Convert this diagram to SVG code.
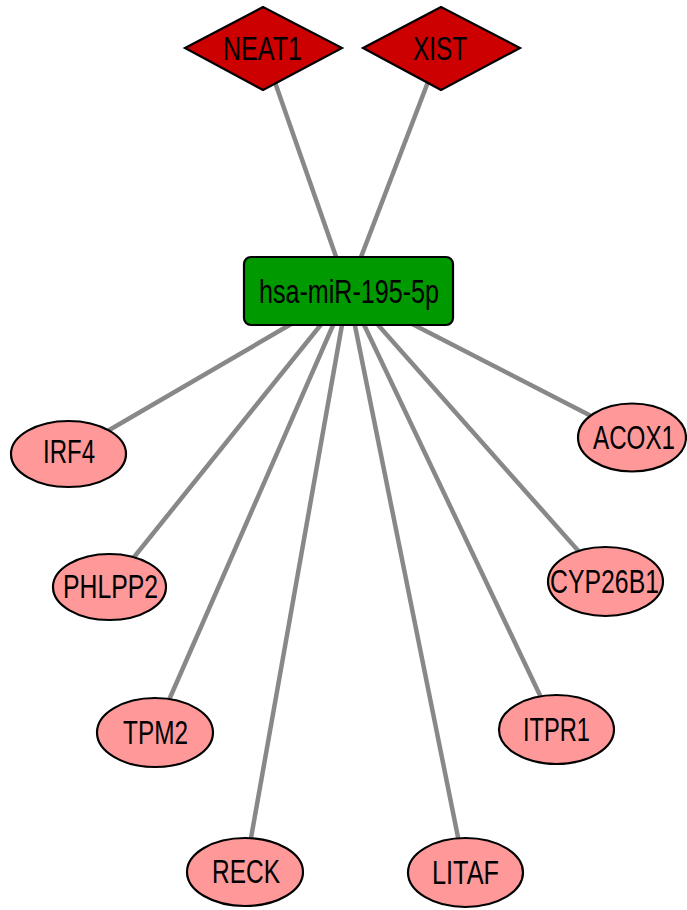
<svg xmlns="http://www.w3.org/2000/svg" width="687" height="910" viewBox="0 0 687 910">
<style>
.edge{stroke:#888888;stroke-width:4.5;fill:none}
.dia{fill:#CC0000;stroke:#000;stroke-width:2.2}
.mir{fill:#009900;stroke:#000;stroke-width:2.2}
.gene{fill:#FF9999;stroke:#000;stroke-width:2.2}
text{font-family:"Liberation Sans Narrow","Liberation Sans",Arial,sans-serif;font-size:33px;fill:#000;text-anchor:middle}
</style>
<rect width="687" height="910" fill="#fff"/>
<g id="edges">
<line class="edge" x1="263" y1="48" x2="348" y2="291"/>
<line class="edge" x1="441" y1="48" x2="348" y2="291"/>
<line class="edge" x1="348" y1="291" x2="68" y2="454"/>
<line class="edge" x1="348" y1="291" x2="110" y2="587"/>
<line class="edge" x1="348" y1="291" x2="155" y2="732"/>
<line class="edge" x1="348" y1="291" x2="245" y2="872"/>
<line class="edge" x1="348" y1="291" x2="465" y2="872"/>
<line class="edge" x1="348" y1="291" x2="556" y2="729"/>
<line class="edge" x1="348" y1="291" x2="605" y2="581"/>
<line class="edge" x1="348" y1="291" x2="632" y2="437"/>
</g>
<g id="NEAT1"><polygon class="dia" points="185,48 263,7 342,48 263,90"/><text x="262.5" y="60" textLength="79" lengthAdjust="spacingAndGlyphs">NEAT1</text></g>
<g id="XIST"><polygon class="dia" points="363,48 441,7 520,48 441,90"/><text x="440" y="60" textLength="54" lengthAdjust="spacingAndGlyphs">XIST</text></g>
<g id="hsa-miR-195-5p"><rect class="mir" x="244" y="257" width="209" height="68" rx="7"/><text x="349" y="303" textLength="180" lengthAdjust="spacingAndGlyphs">hsa-miR-195-5p</text></g>
<g id="IRF4"><ellipse class="gene" cx="68.5" cy="454" rx="57.5" ry="33"/><text x="69" y="463" textLength="52" lengthAdjust="spacingAndGlyphs">IRF4</text></g>
<g id="PHLPP2"><ellipse class="gene" cx="109.5" cy="587" rx="56.5" ry="33"/><text x="110.5" y="598" textLength="95" lengthAdjust="spacingAndGlyphs">PHLPP2</text></g>
<g id="TPM2"><ellipse class="gene" cx="155" cy="732.5" rx="58" ry="34.5"/><text x="155.5" y="744" textLength="65" lengthAdjust="spacingAndGlyphs">TPM2</text></g>
<g id="RECK"><ellipse class="gene" cx="245" cy="872" rx="58" ry="34"/><text x="246" y="883" textLength="68" lengthAdjust="spacingAndGlyphs">RECK</text></g>
<g id="LITAF"><ellipse class="gene" cx="465.5" cy="872.5" rx="57.5" ry="34.5"/><text x="465.5" y="884" textLength="67" lengthAdjust="spacingAndGlyphs">LITAF</text></g>
<g id="ITPR1"><ellipse class="gene" cx="556.5" cy="729.5" rx="57.5" ry="34.5"/><text x="556.5" y="741" textLength="67" lengthAdjust="spacingAndGlyphs">ITPR1</text></g>
<g id="CYP26B1"><ellipse class="gene" cx="605.5" cy="581.5" rx="57.5" ry="34.5"/><text x="604.5" y="593" textLength="109" lengthAdjust="spacingAndGlyphs">CYP26B1</text></g>
<g id="ACOX1"><ellipse class="gene" cx="632" cy="437.5" rx="54" ry="34"/><text x="634" y="449" textLength="82" lengthAdjust="spacingAndGlyphs">ACOX1</text></g>
</svg>
